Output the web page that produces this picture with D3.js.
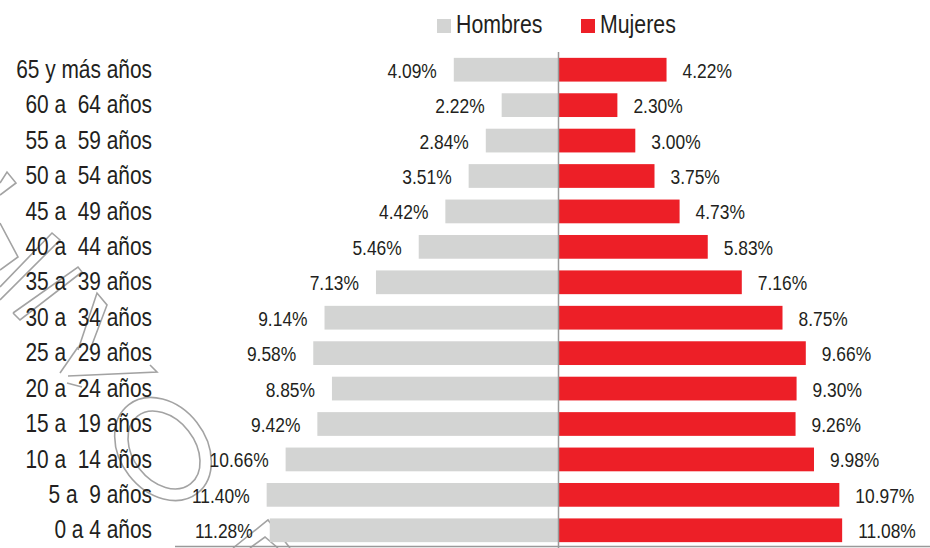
<!DOCTYPE html>
<html>
<head>
<meta charset="utf-8">
<script src="https://cdn.jsdelivr.net/npm/d3@7"></script>
<style>
  html, body { margin: 0; padding: 0; background: #fff; }
  svg { display: block; }
  text { font-family: "Liberation Sans", Arial, sans-serif; fill: #231f20; white-space: pre; }
</style>
</head>
<body>
<svg id="chart" width="930" height="548"></svg>
<script>
const categories = ["65 y más años","60 a  64 años","55 a  59 años","50 a  54 años","45 a  49 años","40 a  44 años","35 a  39 años","30 a  34 años","25 a  29 años","20 a  24 años","15 a  19 años","10 a  14 años","5 a  9 años","0 a 4 años"];
const hombres = [4.09, 2.22, 2.84, 3.51, 4.42, 5.46, 7.13, 9.14, 9.58, 8.85, 9.42, 10.66, 11.40, 11.28];
const mujeres = [4.22, 2.30, 3.00, 3.75, 4.73, 5.83, 7.16, 8.75, 9.66, 9.30, 9.26, 9.98, 10.97, 11.08];
const seriesNames = ["Hombres", "Mujeres"];

const colors = { Hombres: "#d3d4d3", Mujeres: "#ed1f27" };
const narrow = 0.82;
const valNarrow = 0.87;
const svg = d3.select("#chart");
const cx = 558.5;

const y = d3.scaleBand().domain(categories).range([52, 548]).paddingInner(0.33).paddingOuter(0.165);
const x = d3.scaleLinear().domain([0, 12]).range([0, 307.2]);

// condensed text helper
function ntext(parent, tx, ty, str, size, anchor, sx) {
  const gg = parent.append("g").attr("transform", `translate(${tx},${ty}) scale(${sx},1)`);
  return gg.append("text").attr("x", 0).attr("y", 0).attr("font-size", size)
    .attr("text-anchor", anchor).attr("xml:space", "preserve").text(str);
}

// watermark outlines
const wm = svg.append("g").attr("fill", "none").attr("stroke", "#a3a3a3").attr("stroke-width", 1.6);
const polys = [
  [[0,183],[7,172],[16,183],[0,195]],
  [[0,223],[18,257],[0,270]],
  [[0,287],[52,233],[60,240],[0,300]],
  [[13,313],[78,267],[82,272],[20,320],[13,313]],
  [[78,350],[97,293],[107,305],[90,350]],
  [[60,373],[78,347]],
  [[68,376],[157,372],[150,365]],
  [[67,383],[82,387]],
  [[233,548],[268,520],[290,548]],
  [[250,548],[265,537],[278,548]]
];
polys.forEach(p => wm.append("path").attr("d", d3.line()(p)));
wm.append("ellipse").attr("cx", 163).attr("cy", 449).attr("rx", 56).attr("ry", 43)
  .attr("transform", "rotate(52 163 449)");
wm.append("ellipse").attr("cx", 164).attr("cy", 450).attr("rx", 43).attr("ry", 31)
  .attr("transform", "rotate(52 164 450)");

// bars
const rows = categories.map((c, i) => ({ c, h: hombres[i], m: mujeres[i] }));
const g = svg.append("g");
g.selectAll("rect.h").data(rows).join("rect").attr("class", "h")
  .attr("x", d => cx - x(d.h)).attr("y", d => y(d.c))
  .attr("width", d => x(d.h)).attr("height", y.bandwidth())
  .attr("fill", colors.Hombres);
g.selectAll("rect.m").data(rows).join("rect").attr("class", "m")
  .attr("x", cx).attr("y", d => y(d.c))
  .attr("width", d => x(d.m)).attr("height", y.bandwidth())
  .attr("fill", colors.Mujeres);

// value labels
rows.forEach(d => {
  const yc = y(d.c) + y.bandwidth() / 2 + 8;
  ntext(g, cx - x(d.h) - 17, yc, d.h.toFixed(2) + "%", 20, "end", valNarrow);
  ntext(g, cx + x(d.m) + 16, yc, d.m.toFixed(2) + "%", 20, "start", valNarrow);
});

// category labels (left axis, condensed)
const yAxis = d3.axisLeft(y).tickSize(0).tickPadding(0);
const ya = svg.append("g").attr("transform", `translate(152,0) scale(${narrow},1)`).call(yAxis);
ya.select(".domain").remove();
ya.selectAll("text").attr("font-size", 25.5).attr("fill", "#231f20").attr("xml:space", "preserve")
  .style("font-family", "'Liberation Sans', Arial, sans-serif").style("white-space", "pre");

// center line and bottom axis
svg.append("line").attr("x1", cx).attr("x2", cx).attr("y1", 52).attr("y2", 548)
  .attr("stroke", "#999").attr("stroke-width", 1.5);
svg.append("line").attr("x1", 175).attr("x2", 930).attr("y1", 546.5).attr("y2", 546.5)
  .attr("stroke", "#999").attr("stroke-width", 1.5);

// legend
const legendX = { Hombres: 437, Mujeres: 581 };
seriesNames.forEach(n => {
  svg.append("rect").attr("x", legendX[n]).attr("y", 19).attr("width", 14).attr("height", 14).attr("fill", colors[n]);
  ntext(svg, legendX[n] + 19, 33, n, 26, "start", narrow);
});
</script>
</body>
</html>
